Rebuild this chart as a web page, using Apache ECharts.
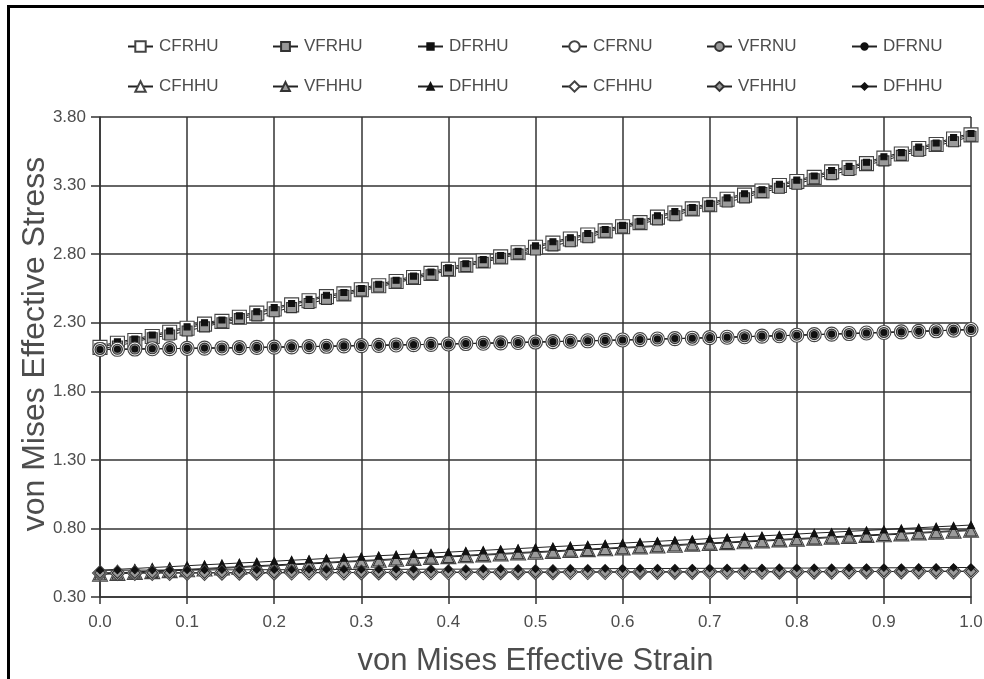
<!DOCTYPE html>
<html>
<head>
<meta charset="utf-8">
<title>von Mises Effective Stress vs Strain</title>
<script src="https://cdn.jsdelivr.net/npm/echarts@6/dist/echarts.min.js"></script>
<style>
  html, body { margin: 0; padding: 0; background: #fff; }
  #wrap { position: relative; width: 984px; height: 679px; overflow: hidden; }
  #frame { position: absolute; left: 7px; top: 5px; width: 1200px; height: 900px;
           border-left: 3px solid #000; border-top: 3px solid #000; }
  #chart { position: absolute; left: 0; top: 0; width: 984px; height: 679px; }
</style>
</head>
<body>
<div id="wrap">
  <div id="frame"></div>
  <div id="chart"></div>
</div>
<script>
// strain values (x)
const strain = [0, 0.02, 0.04, 0.06, 0.08, 0.1, 0.12, 0.14, 0.16, 0.18,
  0.2, 0.22, 0.24, 0.26, 0.28, 0.3, 0.32, 0.34, 0.36, 0.38,
  0.4, 0.42, 0.44, 0.46, 0.48, 0.5, 0.52, 0.54, 0.56, 0.58,
  0.6, 0.62, 0.64, 0.66, 0.68, 0.7, 0.72, 0.74, 0.76, 0.78,
  0.8, 0.82, 0.84, 0.86, 0.88, 0.9, 0.92, 0.94, 0.96, 0.98, 1.0];

// stress values
const cfrhu = [2.12, 2.15, 2.17, 2.20, 2.23, 2.26, 2.29, 2.31, 2.34, 2.37,
  2.40, 2.43, 2.46, 2.49, 2.51, 2.54, 2.57, 2.60, 2.63, 2.66,
  2.69, 2.72, 2.75, 2.78, 2.81, 2.85, 2.88, 2.91, 2.94, 2.97,
  3.00, 3.03, 3.07, 3.10, 3.13, 3.16, 3.20, 3.23, 3.26, 3.30,
  3.33, 3.36, 3.40, 3.43, 3.46, 3.50, 3.53, 3.57, 3.60, 3.64, 3.67];
const vfrhu = [2.11, 2.13, 2.16, 2.19, 2.21, 2.24, 2.27, 2.30, 2.33, 2.35,
  2.38, 2.41, 2.44, 2.47, 2.50, 2.53, 2.56, 2.59, 2.62, 2.65,
  2.68, 2.71, 2.74, 2.77, 2.80, 2.83, 2.86, 2.89, 2.92, 2.96,
  2.99, 3.02, 3.05, 3.08, 3.12, 3.15, 3.18, 3.21, 3.25, 3.28,
  3.31, 3.35, 3.38, 3.41, 3.45, 3.48, 3.52, 3.55, 3.59, 3.62, 3.66];
const dfrhu = [2.13, 2.16, 2.18, 2.21, 2.24, 2.27, 2.30, 2.32, 2.35, 2.38,
  2.41, 2.44, 2.47, 2.50, 2.52, 2.55, 2.58, 2.61, 2.64, 2.67,
  2.70, 2.73, 2.76, 2.79, 2.82, 2.86, 2.89, 2.92, 2.95, 2.98,
  3.01, 3.04, 3.08, 3.11, 3.14, 3.17, 3.21, 3.24, 3.27, 3.31,
  3.34, 3.37, 3.41, 3.44, 3.47, 3.51, 3.54, 3.58, 3.61, 3.65, 3.68];

const frnu = [2.105, 2.106, 2.108, 2.110, 2.111, 2.113, 2.115, 2.116, 2.118, 2.120,
  2.122, 2.124, 2.126, 2.128, 2.131, 2.133, 2.135, 2.138, 2.140, 2.142,
  2.145, 2.148, 2.150, 2.153, 2.156, 2.159, 2.162, 2.165, 2.168, 2.171,
  2.174, 2.177, 2.181, 2.184, 2.187, 2.191, 2.194, 2.198, 2.202, 2.205,
  2.209, 2.213, 2.217, 2.221, 2.225, 2.229, 2.233, 2.237, 2.241, 2.246, 2.250];

const cfhhuTri = [0.470, 0.476, 0.483, 0.489, 0.496, 0.502, 0.508, 0.515, 0.521, 0.528,
  0.534, 0.540, 0.547, 0.553, 0.560, 0.566, 0.572, 0.579, 0.585, 0.592,
  0.598, 0.604, 0.611, 0.617, 0.624, 0.630, 0.636, 0.643, 0.649, 0.656,
  0.662, 0.668, 0.675, 0.681, 0.688, 0.694, 0.700, 0.707, 0.713, 0.720,
  0.726, 0.732, 0.739, 0.745, 0.752, 0.758, 0.764, 0.771, 0.777, 0.784, 0.790];
const vfhhuTri = [0.464, 0.470, 0.477, 0.483, 0.490, 0.496, 0.502, 0.509, 0.515, 0.522,
  0.528, 0.534, 0.541, 0.547, 0.554, 0.560, 0.566, 0.573, 0.579, 0.586,
  0.592, 0.598, 0.605, 0.611, 0.618, 0.624, 0.630, 0.637, 0.643, 0.650,
  0.656, 0.662, 0.669, 0.675, 0.682, 0.688, 0.694, 0.701, 0.707, 0.714,
  0.720, 0.726, 0.733, 0.739, 0.746, 0.752, 0.758, 0.765, 0.771, 0.778, 0.784];
const dfhhuTri = [0.495, 0.502, 0.508, 0.515, 0.521, 0.528, 0.535, 0.541, 0.548, 0.554,
  0.561, 0.568, 0.574, 0.581, 0.587, 0.594, 0.601, 0.607, 0.614, 0.620,
  0.627, 0.634, 0.640, 0.647, 0.653, 0.660, 0.667, 0.673, 0.680, 0.686,
  0.693, 0.700, 0.706, 0.713, 0.719, 0.726, 0.733, 0.739, 0.746, 0.752,
  0.759, 0.766, 0.772, 0.779, 0.785, 0.792, 0.799, 0.805, 0.812, 0.818, 0.825];

const cfhhuDia = [0.475, 0.475, 0.475, 0.476, 0.476, 0.476, 0.476, 0.477, 0.477, 0.477,
  0.477, 0.478, 0.478, 0.478, 0.478, 0.479, 0.479, 0.479, 0.479, 0.480,
  0.480, 0.480, 0.480, 0.481, 0.481, 0.481, 0.481, 0.482, 0.482, 0.482,
  0.482, 0.483, 0.483, 0.483, 0.483, 0.484, 0.484, 0.484, 0.484, 0.485,
  0.485, 0.485, 0.485, 0.486, 0.486, 0.486, 0.486, 0.487, 0.487, 0.487, 0.487];
const dfhhuDia = [0.495, 0.495, 0.496, 0.496, 0.497, 0.497, 0.497, 0.498, 0.498, 0.499,
  0.499, 0.499, 0.500, 0.500, 0.501, 0.501, 0.501, 0.502, 0.502, 0.503,
  0.503, 0.503, 0.504, 0.504, 0.505, 0.505, 0.505, 0.506, 0.506, 0.507,
  0.507, 0.507, 0.508, 0.508, 0.509, 0.509, 0.509, 0.510, 0.510, 0.511,
  0.511, 0.511, 0.512, 0.512, 0.513, 0.513, 0.513, 0.514, 0.514, 0.515, 0.515];

// legend names (second FHHU set keeps the same label as in the picture)
const seriesNames = ['CFRHU', 'VFRHU', 'DFRHU', 'CFRNU', 'VFRNU', 'DFRNU',
  'CFHHU', 'VFHHU', 'DFHHU', 'CFHHU#2', 'VFHHU#2', 'DFHHU#2'];
const seriesData = [cfrhu, vfrhu, dfrhu, frnu, frnu, frnu,
  cfhhuTri, vfhhuTri, dfhhuTri, cfhhuDia, cfhhuDia, dfhhuDia];
const yTicks = { min: 0.3, max: 3.8, step: 0.5 };
const xTicks = { min: 0, max: 1, step: 0.1 };

const font = 'Liberation Sans, Arial, sans-serif';
const textColor = '#4d4d4d';
const gridColor = '#333';

// marker style per variant: C = hollow, V = gray, D = small black
const variants = [
  { size: 14, color: '#fff', border: '#444', legendH: 13 },
  { size: 10, color: '#9a9a9a', border: '#333', legendH: 11 },
  { size: 6, color: '#111', border: '#111', legendH: 8 }
];
const shapes = ['rect', 'circle', 'triangle', 'diamond'];

const series = seriesNames.map((name, i) => {
  const v = variants[i % 3];
  const shape = shapes[Math.floor(i / 3)];
  let size = v.size;
  if (shape === 'triangle' || shape === 'diamond') size = v.size + 1;
  return {
    name: name,
    type: 'line',
    data: strain.map((x, k) => [x, seriesData[i][k]]),
    symbol: shape,
    symbolSize: size,
    showSymbol: true,
    lineStyle: { color: '#222', width: 1 },
    itemStyle: { color: v.color, borderColor: v.border, borderWidth: 1.1 },
    emphasis: { disabled: true }
  };
});

const legendLeft = [127, 272, 417, 561, 706, 851];
const legends = seriesNames.map((name, i) => {
  const v = variants[i % 3];
  return {
    data: [name],
    left: legendLeft[i % 6],
    top: i < 6 ? 38 : 78,
    padding: 0,
    itemWidth: 25,
    itemHeight: v.legendH,
    itemGap: 0,
    selectedMode: false,
    formatter: (n) => n.split('#')[0],
    textStyle: { fontFamily: font, fontSize: 17, color: textColor, padding: [0, 0, 0, 1] }
  };
});

const myChart = echarts.init(document.getElementById('chart'), null, { renderer: 'canvas' });
const option = {
  animation: false,
  backgroundColor: 'transparent',
  legend: legends,
  grid: { left: 100, right: 13, top: 117, bottom: 82, containLabel: false, outerBoundsMode: 'none' },
  xAxis: {
    type: 'value',
    min: xTicks.min,
    max: xTicks.max,
    interval: xTicks.step,
    name: 'von Mises Effective Strain',
    nameLocation: 'middle',
    nameGap: 49,
    nameMoveOverlap: false,
    nameTextStyle: { fontFamily: font, fontSize: 31, color: textColor },
    axisLine: { show: true, lineStyle: { color: gridColor, width: 1.5 } },
    axisTick: { show: true, inside: false, length: 7, lineStyle: { color: gridColor, width: 1.5 } },
    axisLabel: {
      margin: 17,
      fontFamily: font, fontSize: 17, color: textColor,
      formatter: (v) => v.toFixed(1)
    },
    splitLine: { show: true, lineStyle: { color: gridColor, width: 1.5 } }
  },
  yAxis: {
    type: 'value',
    min: yTicks.min,
    max: yTicks.max,
    interval: yTicks.step,
    name: 'von Mises Effective Stress',
    nameLocation: 'middle',
    nameGap: 49,
    nameMoveOverlap: false,
    nameTextStyle: { fontFamily: font, fontSize: 32, color: textColor, padding: [0, 0, 0, 26] },
    axisLine: { show: true, lineStyle: { color: gridColor, width: 1.5 } },
    axisTick: { show: true, inside: false, length: 9, lineStyle: { color: gridColor, width: 1.5 } },
    axisLabel: {
      margin: 14,
      fontFamily: font, fontSize: 17, color: textColor,
      formatter: (v) => v.toFixed(2)
    },
    splitLine: { show: true, lineStyle: { color: gridColor, width: 1.5 } }
  },
  series: series
};
myChart.setOption(option);
</script>
</body>
</html>
